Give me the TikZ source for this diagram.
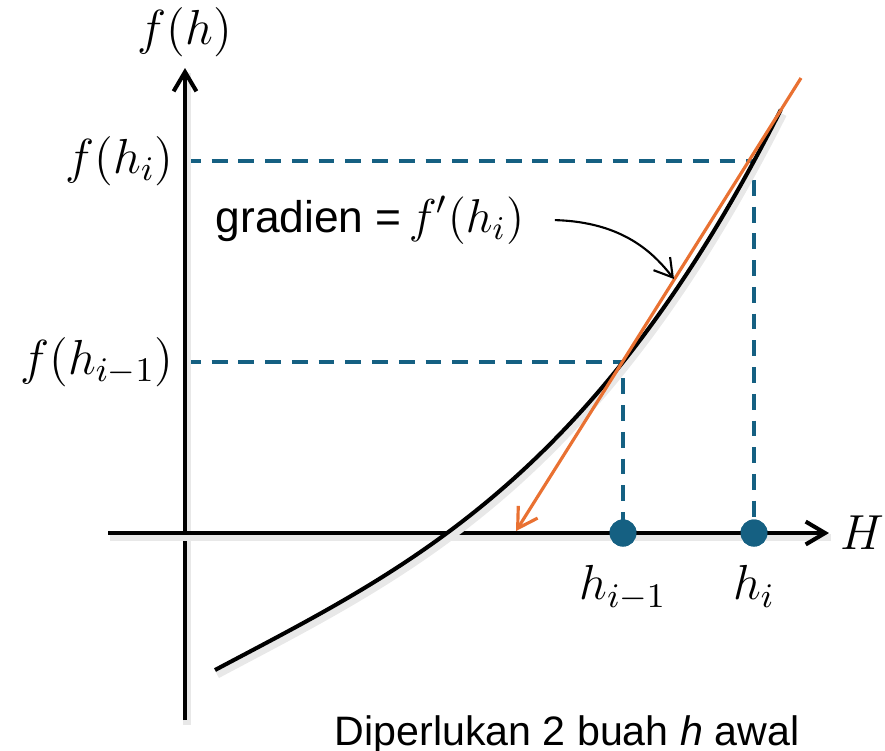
\RequirePackage{fix-cm}
\documentclass[tikz,border=0pt]{standalone}
\usepackage{fontspec}
\setmainfont{Liberation Sans}
\usetikzlibrary{arrows.meta, positioning}

\definecolor{accentblue}{HTML}{156082}
\definecolor{accentorange}{HTML}{E97132}
\newcommand{\mathsz}{\fontsize{14}{17}\selectfont}
\newcommand{\textsz}{\fontsize{11.7}{14}\selectfont}

\begin{document}
\begin{tikzpicture}[
    x=0.01cm, y=-0.01cm,
    shadowed/.style={
        preaction={draw=black!9, line width=2.2pt, -,
            transform canvas={shift={(0.6pt,-1.3pt)}}}
    },
    axis/.style={
        -{Straight Barb[length=5.5pt, width=6.5pt]},
        line width=1.15pt,
        shadowed
    },
    curve/.style={line width=1.15pt, shadowed},
    secant/.style={
        -{Straight Barb[length=5.5pt, width=6.5pt]},
        draw=accentorange,
        line width=0.9pt
    },
    guide/.style={
        draw=accentblue,
        line width=1.1pt,
        dash pattern=on 4.5pt off 3.1pt
    },
    dot/.style={circle, fill=accentblue, minimum size=0.27cm, inner sep=0pt},
    lbl/.style={font=\mathsz, inner sep=3pt},
    pointer/.style={-{Straight Barb[length=5pt, width=6pt]}, line width=0.6pt}
]
\useasboundingbox (0,0) rectangle (885,750);

% Axes
\coordinate (ybot) at (185,720);
\coordinate (ytip) at (185,68);
\coordinate (xleft) at (108,533);
\coordinate (xtip) at (829,533);

% Points on the curve
\coordinate (yprev) at (185,362);
\coordinate (yi) at (185,161);
\node (hprev) [dot] at (623,533) {};
\node (hcur) [dot] at (754,533) {};

% Guide lines
\draw [guide] (yprev) -| (hprev.center);
\draw [guide] (yi) -| (hcur.center);

\draw [axis] (ybot) -- (ytip);
\draw [axis] (xleft) -- (xtip);

% Curve f(h), cubic through both points
\draw [curve] plot[domain=-2.32:3.34, samples=90, smooth]
    ({447+100*\x}, {533-(73.91*\x+10.274*\x*\x+1.668*\x*\x*\x)});

% Secant line
\coordinate (sectop) at (801,78);
\coordinate (secend) at (516,531);
\draw [secant] (sectop) -- (secend);
\coordinate (gtip) at (674,279);

% Dots again on top
\node [dot] at (hprev) {};
\node [dot] at (hcur) {};

% Labels
\node (fhlabel) [lbl, above=0pt of ytip] {$f(h)$};
\node (filabel) [lbl, left=0pt of yi] {$f(h_i)$};
\node (fprevlabel) [lbl, left=0pt of yprev] {$f(h_{i-1})$};
\node (Hlabel) [lbl, right=0pt of xtip] {$H$};
\node (hprevlabel) [lbl, below=2pt of hprev] {$h_{i-1}$};
\node (hcurlabel) [lbl, below=2pt of hcur] {$h_i$};

% Gradient note
\node (grad) [font=\fontsize{13.5}{16}\selectfont, anchor=base west, inner sep=0pt] at (215,232)
    {{\fontsize{12.6}{15}\selectfont gradien =}\hspace{0.15em}$f'(h_i)$};
\draw [pointer] ([xshift=0.3cm]grad.east) .. controls (625,222) and (655,255) .. (gtip);

% Bottom note
\node (note) [font=\textsz, anchor=base] at (567,745) {Diperlukan 2 buah \textit{h} awal};

\end{tikzpicture}
\end{document}
